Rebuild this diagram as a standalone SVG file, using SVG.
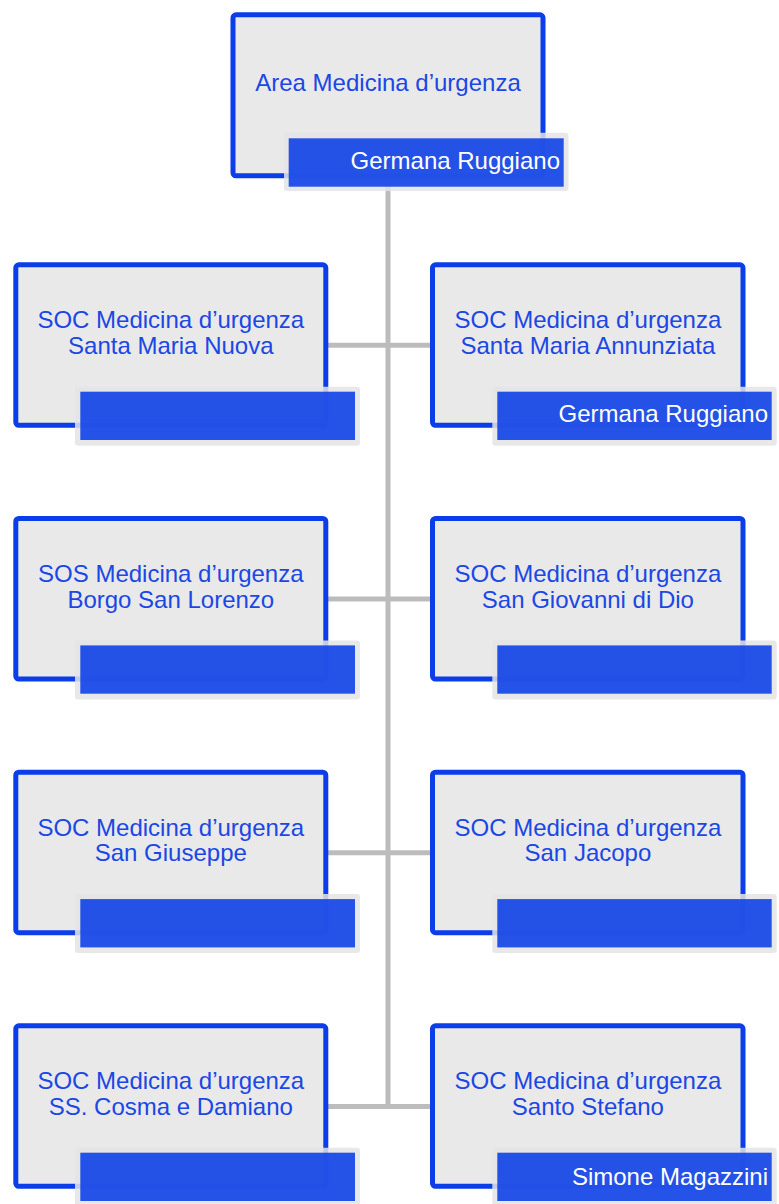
<svg xmlns="http://www.w3.org/2000/svg" width="779" height="1204" viewBox="0 0 779 1204">
<style>
.box{fill:#e9e9e9;stroke:#0b3de9;stroke-width:5}
.frame{fill:#e4e4e4;fill-opacity:0.85}
.bar{fill:#1646e6;fill-opacity:0.93}
.t{font-family:"Liberation Sans",Arial,sans-serif;font-size:24px;fill:#1a47e6;text-anchor:middle}
.n{font-family:"Liberation Sans",Arial,sans-serif;font-size:24px;fill:#ffffff;text-anchor:end}
.c{stroke:#bcbcbc;stroke-width:5;fill:none}
</style>
<rect width="779" height="1204" fill="#ffffff"/>
<g id="connectors">
<line class="c" x1="388" y1="186" x2="388" y2="1108.5"/>
<line class="c" x1="326" y1="345.3" x2="432" y2="345.3"/>
<line class="c" x1="326" y1="599" x2="432" y2="599"/>
<line class="c" x1="326" y1="852.7" x2="432" y2="852.7"/>
<line class="c" x1="326" y1="1106.4" x2="432" y2="1106.4"/>
</g>
<g id="n0">
<rect class="box" x="233" y="14.8" width="310" height="161" rx="3"/>
<text class="t" x="388" y="91">Area Medicina d’urgenza</text>
<rect class="frame" x="284" y="132.7" width="284.5" height="58.3" rx="3"/>
<rect class="bar" x="288.7" y="138.3" width="275" height="48.4"/>
<text class="n" x="560" y="169">Germana Ruggiano</text>
</g>
<g id="n1">
<rect class="box" x="15.8" y="264.8" width="310" height="160.5" rx="3"/>
<text class="t" x="170.8" y="328.3">SOC Medicina d’urgenza<tspan x="170.8" dy="25.7">Santa Maria Nuova</tspan></text>
<rect class="frame" x="75" y="386.7" width="285" height="59" rx="3"/>
<rect class="bar" x="80.3" y="391.7" width="274.7" height="48.3"/>
</g>
<g id="n2">
<rect class="box" x="432.5" y="264.8" width="310.5" height="160.5" rx="3"/>
<text class="t" x="587.9" y="328.3">SOC Medicina d’urgenza<tspan x="587.9" dy="25.7">Santa Maria Annunziata</tspan></text>
<rect class="frame" x="492.3" y="386.7" width="284.4" height="59" rx="3"/>
<rect class="bar" x="497.3" y="391.7" width="274.4" height="48.3"/>
<text class="n" x="768" y="422">Germana Ruggiano</text>
</g>
<g id="n3">
<rect class="box" x="15.8" y="518.5" width="310" height="160.5" rx="3"/>
<text class="t" x="170.8" y="582">SOS Medicina d’urgenza<tspan x="170.8" dy="25.7">Borgo San Lorenzo</tspan></text>
<rect class="frame" x="75" y="640.4" width="285" height="59" rx="3"/>
<rect class="bar" x="80.3" y="645.4" width="274.7" height="48.3"/>
</g>
<g id="n4">
<rect class="box" x="432.5" y="518.5" width="310.5" height="160.5" rx="3"/>
<text class="t" x="587.9" y="582">SOC Medicina d’urgenza<tspan x="587.9" dy="25.7">San Giovanni di Dio</tspan></text>
<rect class="frame" x="492.3" y="640.4" width="284.4" height="59" rx="3"/>
<rect class="bar" x="497.3" y="645.4" width="274.4" height="48.3"/>
</g>
<g id="n5">
<rect class="box" x="15.8" y="772.2" width="310" height="160.5" rx="3"/>
<text class="t" x="170.8" y="835.7">SOC Medicina d’urgenza<tspan x="170.8" dy="25.7">San Giuseppe</tspan></text>
<rect class="frame" x="75" y="894.1" width="285" height="59" rx="3"/>
<rect class="bar" x="80.3" y="899.1" width="274.7" height="48.3"/>
</g>
<g id="n6">
<rect class="box" x="432.5" y="772.2" width="310.5" height="160.5" rx="3"/>
<text class="t" x="587.9" y="835.7">SOC Medicina d’urgenza<tspan x="587.9" dy="25.7">San Jacopo</tspan></text>
<rect class="frame" x="492.3" y="894.1" width="284.4" height="59" rx="3"/>
<rect class="bar" x="497.3" y="899.1" width="274.4" height="48.3"/>
</g>
<g id="n7">
<rect class="box" x="15.8" y="1025.8" width="310" height="160.5" rx="3"/>
<text class="t" x="170.8" y="1089.3">SOC Medicina d’urgenza<tspan x="170.8" dy="25.7">SS. Cosma e Damiano</tspan></text>
<rect class="frame" x="75" y="1147.7" width="285" height="59" rx="3"/>
<rect class="bar" x="80.3" y="1152.7" width="274.7" height="48.3"/>
</g>
<g id="n8">
<rect class="box" x="432.5" y="1025.8" width="310.5" height="160.5" rx="3"/>
<text class="t" x="587.9" y="1089.3">SOC Medicina d’urgenza<tspan x="587.9" dy="25.7">Santo Stefano</tspan></text>
<rect class="frame" x="492.3" y="1147.7" width="284.4" height="59" rx="3"/>
<rect class="bar" x="497.3" y="1152.7" width="274.4" height="48.3"/>
<text class="n" x="768" y="1185">Simone Magazzini</text>
</g>
</svg>
